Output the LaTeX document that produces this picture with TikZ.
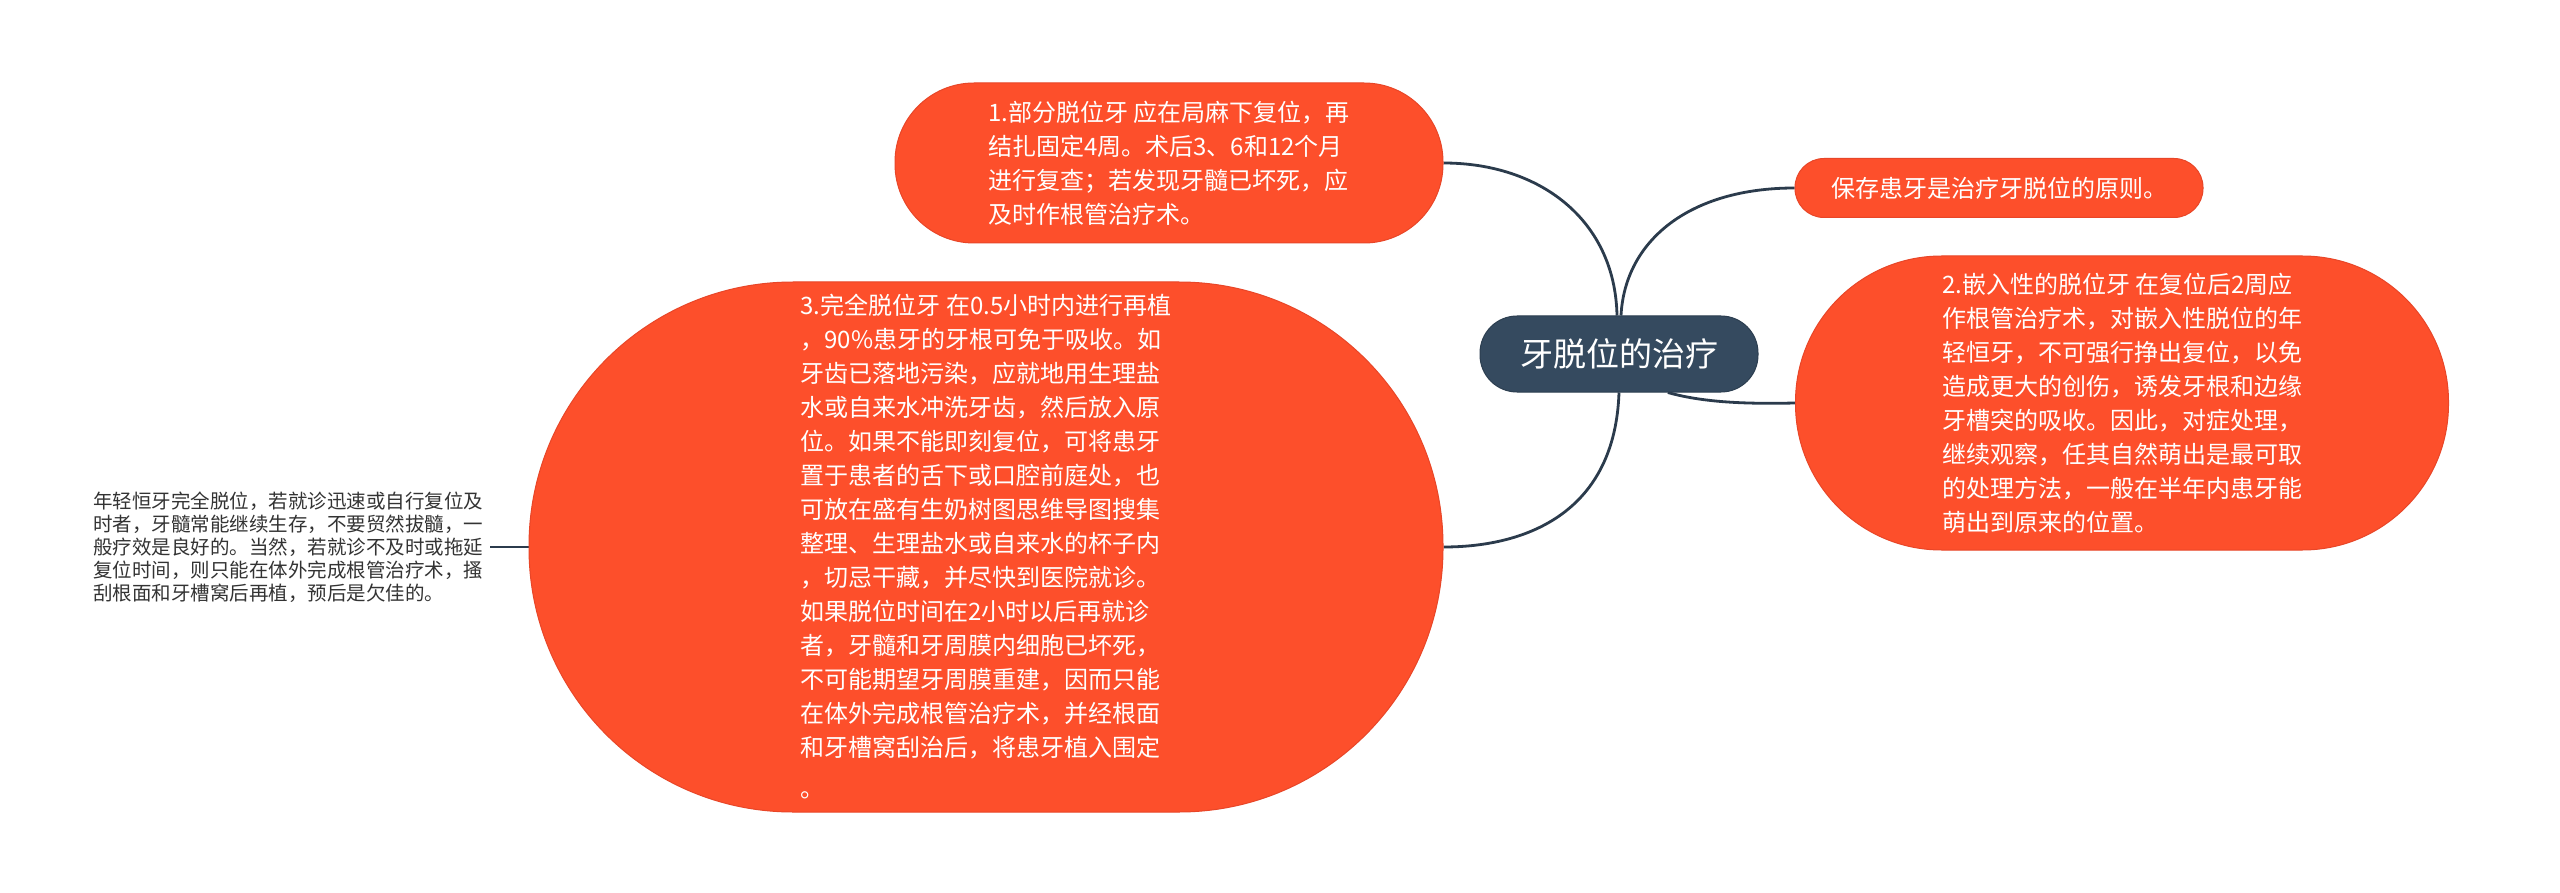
\documentclass[tikz,border=0pt]{standalone}
\usepackage{fontspec}
\setmainfont{Noto Sans CJK SC}
\usetikzlibrary{backgrounds,calc}
\definecolor{orangeA}{HTML}{FD4F2B}
\definecolor{orangeB}{HTML}{E84628}
\definecolor{slateA}{HTML}{354A5F}
\definecolor{slateB}{HTML}{2C3E50}
\definecolor{lineC}{HTML}{2B3B4C}
\definecolor{textD}{HTML}{333333}
\begin{document}
\begin{tikzpicture}[x=1pt,y=-1pt,
  box/.style={rectangle, fill=orangeA, draw=orangeB, line width=1pt, text=white, align=left,
    font=\fontsize{24pt}{34pt}\selectfont, inner sep=0pt},
  root/.style={rectangle, fill=slateA, draw=slateB, line width=1pt, text=white,
    font=\fontsize{33pt}{40pt}\selectfont, minimum width=278pt, minimum height=76pt,
    rounded corners=37pt, inner sep=0pt},
  plain/.style={align=left, text=textD, font=\fontsize{19.5pt}{23pt}\selectfont, inner xsep=7pt, inner ysep=0pt},
  conn/.style={draw=lineC, line width=2.8pt}]
\useasboundingbox (0,0) rectangle (2560,893);

\node[root] (c) at (1619,354) {牙脱位的治疗};

\node[box, minimum width=548pt, minimum height=160pt, rounded corners=79pt] (n1) at (1169,163)
 {1.部分脱位牙 应在局麻下复位，再\\结扎固定4周。术后3、6和12个月\\进行复查；若发现牙髓已坏死，应\\及时作根管治疗术。};

\node[box, minimum width=408pt, minimum height=59pt, rounded corners=29pt] (n0) at (1999,188)
 {保存患牙是治疗牙脱位的原则。};

\node[box, minimum width=653pt, minimum height=294pt, rounded corners=146pt] (n2) at (2122,403)
 {2.嵌入性的脱位牙 在复位后2周应\\作根管治疗术，对嵌入性脱位的年\\轻恒牙，不可强行挣出复位，以免\\造成更大的创伤，诱发牙根和边缘\\牙槽突的吸收。因此，对症处理，\\继续观察，任其自然萌出是最可取\\的处理方法，一般在半年内患牙能\\萌出到原来的位置。};

\node[box, minimum width=914pt, minimum height=530pt, rounded corners=264pt] (n3) at (986,547)
 {3.完全脱位牙 在0.5小时内进行再植\\，90\%患牙的牙根可免于吸收。如\\牙齿已落地污染，应就地用生理盐\\水或自来水冲洗牙齿，然后放入原\\位。如果不能即刻复位，可将患牙\\置于患者的舌下或口腔前庭处，也\\可放在盛有生奶树图思维导图搜集\\整理、生理盐水或自来水的杯子内\\，切忌干藏，并尽快到医院就诊。\\如果脱位时间在2小时以后再就诊\\者，牙髓和牙周膜内细胞已坏死，\\不可能期望牙周膜重建，因而只能\\在体外完成根管治疗术，并经根面\\和牙槽窝刮治后，将患牙植入围定\\[7pt]。};

\node[plain, anchor=west] (n4) at (86,547)
 {年轻恒牙完全脱位，若就诊迅速或自行复位及\\时者，牙髓常能继续生存，不要贸然拔髓，一\\般疗效是良好的。当然，若就诊不及时或拖延\\复位时间，则只能在体外完成根管治疗术，搔\\刮根面和牙槽窝后再植，预后是欠佳的。};

\coordinate (c2) at ($(c.south)!0.35!(c.south east)$);

\begin{scope}[on background layer]
\fill[white] (0,0) rectangle (2560,893);
\draw[conn] ([xshift=-2pt]c.north) .. controls (1615,220) and (1540,163) .. (n1.east);
\draw[conn] ([xshift=2pt]c.north) .. controls (1625,240) and (1690,188) .. (n0.west);
\draw[conn] (c2) .. controls (1705,403) and (1750,404) .. (n2.west);
\draw[conn] (c.south) .. controls (1615,510) and (1530,547) .. (n3.east);
\draw[conn] (n3.west) -- (n4.east);
\end{scope}
\end{tikzpicture}
\end{document}
